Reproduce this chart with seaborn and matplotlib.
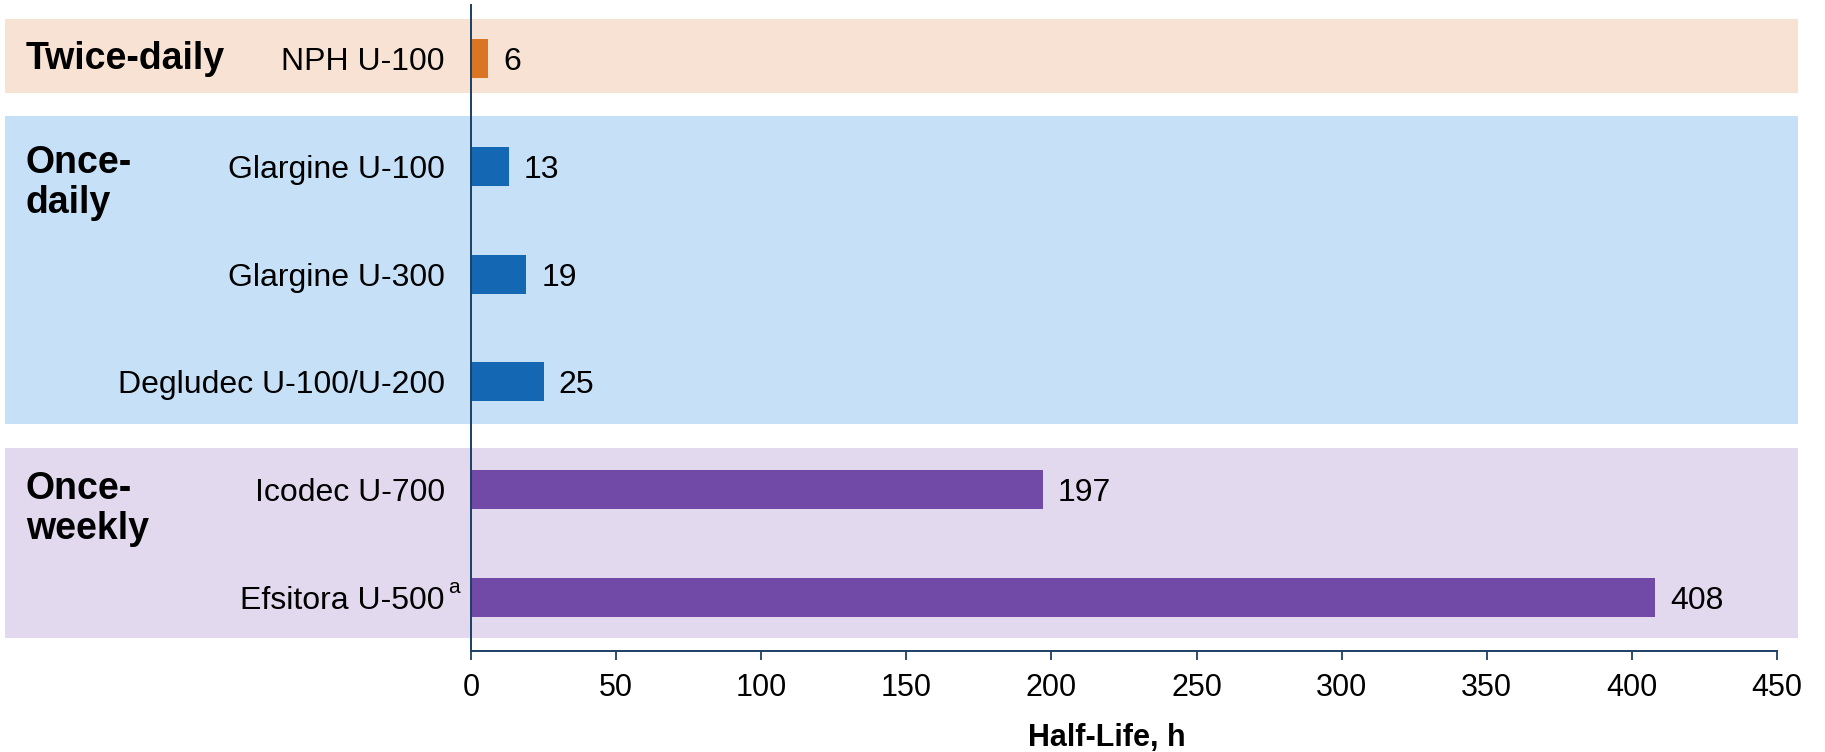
import seaborn as sns
import matplotlib.pyplot as plt
import pandas as pd

# data
drugs = ['NPH U-100', 'Glargine U-100', 'Glargine U-300', 'Degludec U-100/U-200',
         'Icodec U-700', 'Efsitora U-500']
half_life = [6, 13, 19, 25, 197, 408]
dosing = ['Twice-daily', 'Once-daily', 'Once-daily', 'Once-daily', 'Once-weekly', 'Once-weekly']
group_labels = ['Twice-daily', 'Once-\ndaily', 'Once-\nweekly']
x_ticks = [0, 50, 100, 150, 200, 250, 300, 350, 400, 450]

bar_colors = {'Twice-daily': '#D97523', 'Once-daily': '#1467B3', 'Once-weekly': '#714AA8'}
band_colors = ['#F7E2D3', '#C5E0F7', '#E2D9EE']
axis_col = '#1C3F66'

sns.set_style('white')
plt.rcParams['font.family'] = ['Liberation Sans', 'DejaVu Sans']
plt.rcParams['text.color'] = 'black'
plt.rcParams['xtick.color'] = 'black'
plt.rcParams['ytick.color'] = 'black'
plt.rcParams['axes.labelcolor'] = 'black'

df = pd.DataFrame({'drug': drugs, 'half_life': half_life, 'dosing': dosing})

fig = plt.figure(figsize=(18.25, 7.52), dpi=100)
ax = fig.add_axes([0.2581, 0.1343, 0.7156, 0.8591])
ax.patch.set_alpha(0)

sns.barplot(data=df, x='half_life', y='drug', hue='dosing', palette=bar_colors,
            dodge=False, width=0.36, linewidth=0, saturation=1, legend=False,
            ax=ax, zorder=2)

# group bands (extend past axes on both sides)
bands = [(-0.37, 0.32), (0.53, 3.39), (3.61, 5.38)]
for (y0, y1), c in zip(bands, band_colors):
    ax.axhspan(y0, y1, xmin=-0.357, xmax=1.016, color=c, lw=0, zorder=0.5, clip_on=False)

# group names
group_y = [0, 1.15, 4.18]
for lab, gy in zip(group_labels, group_y):
    ax.text(-0.341, gy, lab, transform=ax.get_yaxis_transform(), ha='left', va='center',
            fontsize=27, fontweight='bold', linespacing=1.15, zorder=3, clip_on=False)

for cont in ax.containers:
    txts = ax.bar_label(cont, fmt='%g', padding=11, fontsize=23)
    for t in txts:
        t.set_va('center_baseline')

ax.set_xlim(0, 450)
ax.set_ylim(5.5, -0.5)
ax.set_xticks(x_ticks)
ax.tick_params(axis='x', bottom=True, length=6.5, width=1.3, color=axis_col,
               labelsize=22, pad=9)
ax.tick_params(axis='y', left=False, length=0, labelsize=23, pad=19)
ax.set_ylabel('')
ax.set_xlabel('Half-Life, h', fontsize=22, fontweight='bold')
ax.xaxis.set_label_coords(0.487, -0.112)

# superscript on Efsitora label
ax.annotate('a', xy=(0, 5), xycoords=('axes fraction', 'data'), xytext=(-12, 7),
            textcoords='offset points', fontsize=15, ha='center', va='center')

for s in ['top', 'right']:
    ax.spines[s].set_visible(False)
for s in ['left', 'bottom']:
    ax.spines[s].set_color(axis_col)
    ax.spines[s].set_linewidth(1.4)
    ax.spines[s].set_zorder(4)

fig.savefig('out.png', dpi=100)
